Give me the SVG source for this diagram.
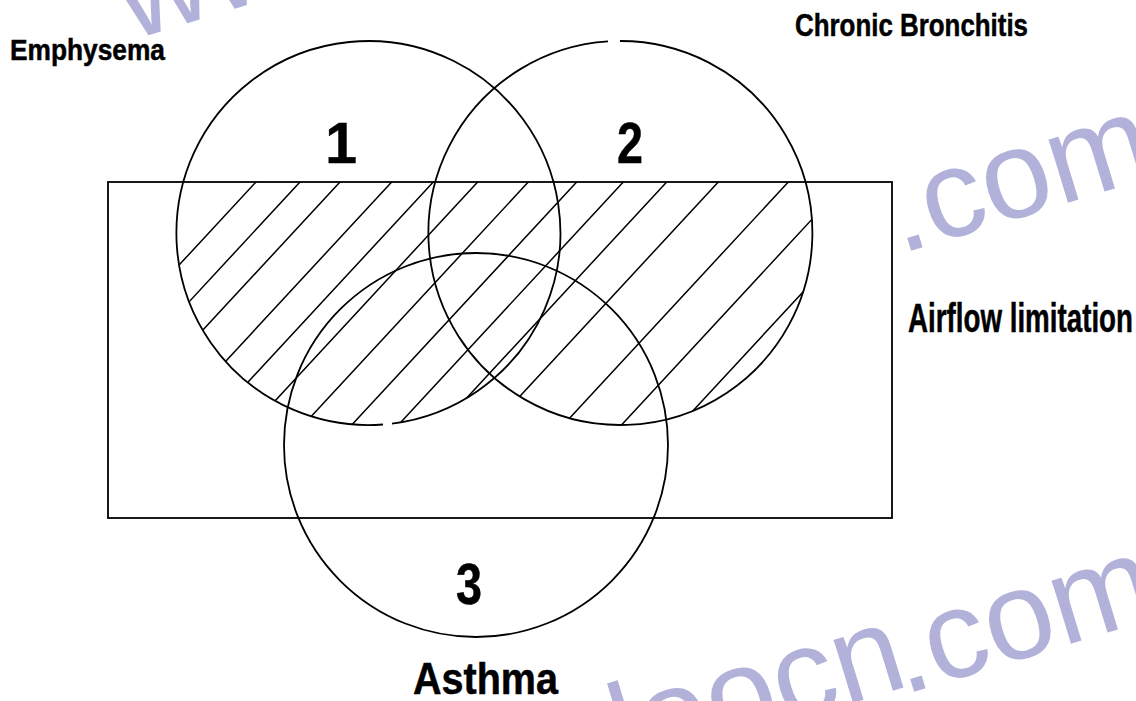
<svg xmlns="http://www.w3.org/2000/svg" width="1136" height="701" viewBox="0 0 1136 701">
<style>
.outline{fill:none;stroke:#000;stroke-width:1.8}
.hatch{stroke:#000;stroke-width:1.5;fill:none}
.label{font-family:"Liberation Sans",Arial,sans-serif;font-weight:bold;fill:#000;stroke:#000;stroke-width:0.5}
.wm{font-family:"Liberation Sans",Arial,sans-serif;fill:#b1b1d9;font-size:125px}
</style>
<defs>
<clipPath id="clipRect"><rect x="108" y="182" width="784" height="336"/></clipPath>
<clipPath id="clipCircles"><circle cx="369" cy="233" r="192"/><circle cx="620" cy="233" r="192"/></clipPath>
</defs>
<rect width="1136" height="701" fill="#fff"/>
<g id="watermark">
<text class="wm" font-size="115" transform="translate(131,40.4) rotate(-17)">www</text>
<text class="wm" transform="translate(900.2,254.1) rotate(-17)">.com</text>
<text class="wm" transform="translate(625.5,772.5) rotate(-17)">loocn</text>
<text class="wm" transform="translate(903.2,695.1) rotate(-17)">.com</text>
</g>
<g id="node-airflow">
<rect class="outline" x="108" y="182" width="784" height="336"/>
<text class="label" x="908" y="332" font-size="40" textLength="225" lengthAdjust="spacingAndGlyphs">Airflow limitation</text>
</g>
<g id="hatching" clip-path="url(#clipRect)">
<g clip-path="url(#clipCircles)">
<path class="hatch" d="M267.1 170L17.1 440M311.1 170L61.1 440M351.1 170L101.1 440M402.8 170L152.8 440M444.4 170L194.4 440M488.8 170L238.8 440M539.4 170L289.4 440M587.8 170L337.8 440M634.4 170L384.4 440M677.8 170L427.8 440M729.4 170L479.4 440M799.4 170L549.4 440M857.6 170L607.6 440M915.9 170L665.9 440"/>
</g>
</g>
<g id="node-emphysema">
<path class="outline" d="M392 423.6A192 192 0 1 0 383 424.5"/>
<text class="label" x="10" y="60" font-size="30" textLength="155" lengthAdjust="spacingAndGlyphs">Emphysema</text>
<text class="label" x="341" y="163" font-size="57" text-anchor="middle">1</text>
</g>
<g id="node-bronchitis">
<path class="outline" d="M620 41A192 192 0 1 1 608 41.4"/>
<text class="label" x="795" y="36" font-size="31" textLength="233" lengthAdjust="spacingAndGlyphs">Chronic Bronchitis</text>
<text class="label" transform="translate(630,163) scale(0.82,1)" font-size="57" text-anchor="middle">2</text>
</g>
<g id="node-asthma">
<circle class="outline" cx="476" cy="445" r="192"/>
<text class="label" x="413" y="694" font-size="44" textLength="145" lengthAdjust="spacingAndGlyphs">Asthma</text>
<text class="label" transform="translate(469,604) scale(0.82,1)" font-size="57" text-anchor="middle">3</text>
</g>
</svg>
